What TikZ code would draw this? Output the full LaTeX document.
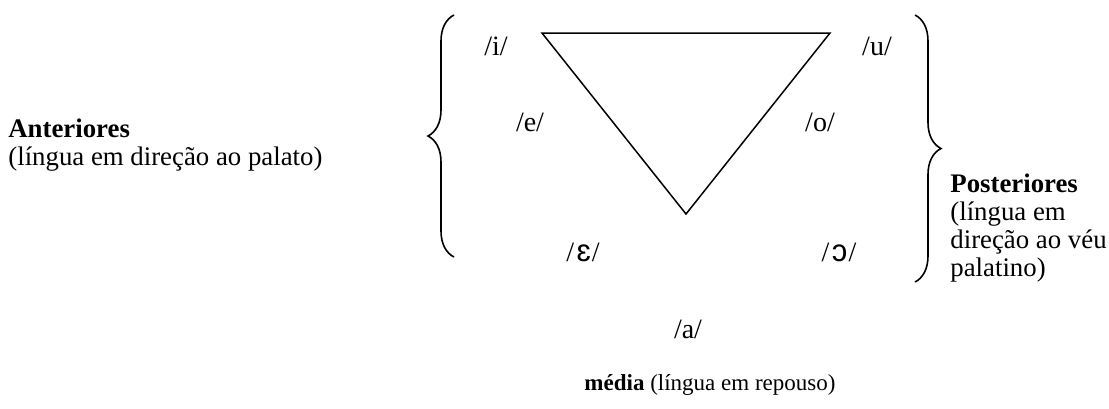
\documentclass[tikz,border=0pt]{standalone}
\usepackage{fontspec}
\setmainfont{Liberation Serif}
\setsansfont{Liberation Sans}
\usepackage{tikz}
\usetikzlibrary{decorations.pathreplacing}

\begin{document}
\begin{tikzpicture}[x=0.5pt,y=-0.5pt,font=\fontsize{13.4}{14}\selectfont]
\tikzset{
  vowel/.style={font=\fontsize{14}{16}\selectfont, inner sep=0pt},
  label/.style={align=left, inner sep=0pt},
  bracket/.style={thick, decorate, decoration={brace, amplitude=13pt}}
}
\newcommand{\openv}[1]{\kern1.2pt{\fontsize{15.5}{16}\sffamily #1}\kern0.6pt}
\useasboundingbox (0,0) rectangle (1109,408);

% triangle
\coordinate (tl) at (542,33);
\coordinate (tr) at (830,33);
\coordinate (bt) at (686,214);
\draw[line width=0.75pt, line join=miter] (tl)--(tr)--(bt)--cycle;

% braces
\coordinate (lb1) at (454,257);
\coordinate (lb2) at (454,15);
\coordinate (rb1) at (915,15);
\coordinate (rb2) at (915,282);
\draw[bracket] (lb1)--(lb2);
\draw[bracket] (rb1)--(rb2);

% vowels
\node[vowel] (i) at (496,46) {/i/};
\node[vowel] (e) at (530,122) {/e/};
\node[vowel] (eps) at (583,252) {/\openv{ɛ}/};
\node[vowel] (u) at (877,46) {/u/};
\node[vowel] (o) at (820,122) {/o/};
\node[vowel] (opn) at (839,252) {/\openv{ɔ}/};
\node[vowel] (a) at (688,329) {/a/};

% labels
\node[label, anchor=west] (ant) at (8,145)
  {\textbf{Anteriores}\\(língua em direção ao palato)};
\node[label, anchor=west] (post) at (950,228)
  {\textbf{Posteriores}\\(língua em\\direção ao véu\\palatino)};
\node[inner sep=0pt, font=\fontsize{11.5}{14}\selectfont] (med) at (710,385)
  {\textbf{média} (língua em repouso)};
\end{tikzpicture}
\end{document}
